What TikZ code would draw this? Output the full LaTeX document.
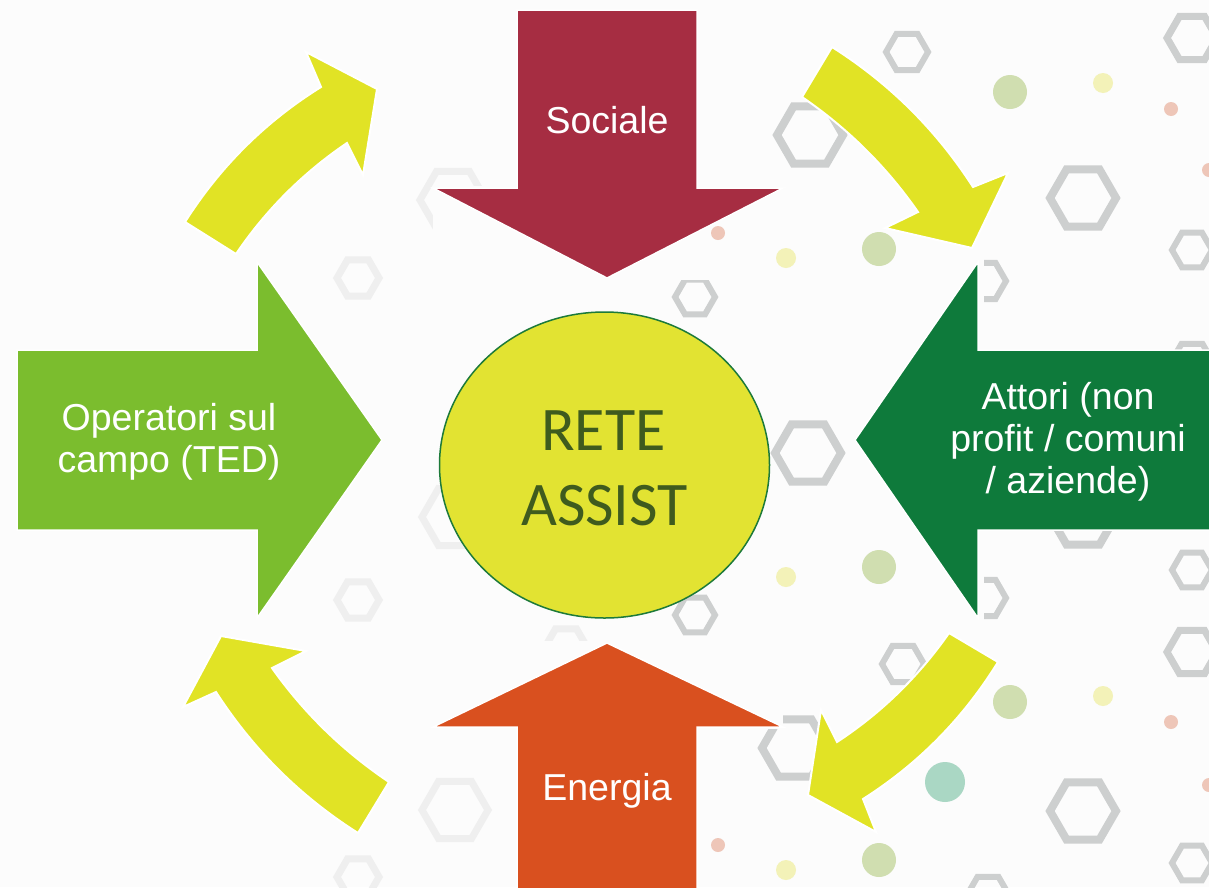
\documentclass[tikz,border=0pt]{standalone}
\usepackage{fontspec}
\setmainfont{Liberation Sans}
\newfontfamily\calibrifont{Carlito}
\usetikzlibrary{shapes.geometric}
\definecolor{bgc}{HTML}{FCFCFC}
\definecolor{socialec}{HTML}{A62D42}
\definecolor{energiac}{HTML}{D9501F}
\definecolor{operc}{HTML}{7BBD2E}
\definecolor{attoric}{HTML}{0E7A3B}
\definecolor{yelc}{HTML}{E1E325}
\definecolor{circc}{HTML}{E2E332}
\definecolor{circborder}{HTML}{1D7A3A}
\definecolor{retec}{HTML}{3F5B1E}
\definecolor{hexc}{HTML}{CDCFCF}
\definecolor{hexfaint}{HTML}{EFEFEF}
\definecolor{dotg}{HTML}{D0DEB0}
\definecolor{doty}{HTML}{F3F2B8}
\definecolor{dotr}{HTML}{EEC6B8}
\definecolor{dott}{HTML}{AAD7C4}
\tikzset{
  bigarrow/.style={draw=white, line width=1.5, line join=miter},
  carrow/.style={fill=yelc, draw=white, line width=2, line join=miter},
  lbl/.style={text=white, font=\fontsize{37.5}{45}\selectfont, inner sep=0, anchor=base},
  retetxt/.style={text=retec, font=\calibrifont\fontsize{62}{75}\selectfont, inner sep=0, anchor=base},
  retecirc/.style={ellipse, fill=circc, draw=circborder, line width=1.5, minimum width=330, minimum height=306, inner sep=0}
}
\begin{document}
\begin{tikzpicture}[x=1pt,y=-1pt]
\useasboundingbox (0,0) rectangle (1209,887);
\fill[bgc] (0,0) rectangle (1209,887);
% faint hexagons
\foreach \cx/\cy/\r in {453/200/33, 358/278/21, 455/517/33, 358/600/21, 566/647/21, 455/810/33, 358/877/21}
  \draw[hexfaint, line width=7] (\cx,\cy) +(0:\r) -- +(60:\r) -- +(120:\r) -- +(180:\r) -- +(240:\r) -- +(300:\r) -- cycle;
% gray hexagons
\foreach \cx/\cy/\r/\w in {810/135/33/8, 1083/198/33/8, 808/453/33/8, 1083/516/33/8, 1083/811/33/8, 795/748/33/8,
  1192/38/25/7, 1192/652/25/7,
  907/52/21/6, 695/297/20/6, 1192/250/20/6, 985/281/21/6, 1192/362/21/6, 1192/570/20/6, 695/615/20/6,
  985/598/21/6, 903/664/21/6, 1192/863/20/6, 988/895/21/6}
  \draw[hexc, line width=\w] (\cx,\cy) +(0:\r) -- +(60:\r) -- +(120:\r) -- +(180:\r) -- +(240:\r) -- +(300:\r) -- cycle;
% background boxes behind arrow heads
\fill[bgc] (855,257) rectangle (984,623);
\fill[bgc] (433,186) rectangle (783,280);
\fill[bgc] (433,641) rectangle (783,729);
% dots
\foreach \cx/\cy in {1010/92, 879/249, 879/567, 1010/702, 879/860} \fill[dotg] (\cx,\cy) circle[radius=17];
\foreach \cx/\cy in {1103/83, 786/258, 786/577, 1103/696, 786/870} \fill[doty] (\cx,\cy) circle[radius=10];
\foreach \cx/\cy in {1171/109, 718/233, 1171/722, 718/845, 1209/170, 1209/785} \fill[dotr] (\cx,\cy) circle[radius=7];
\fill[dott] (945,782) circle[radius=20];
% big arrows
\fill[socialec, bigarrow] (517,10) -- (697,10) -- (697,188) -- (783,188) -- (607,278) -- (433,188) -- (517,188) -- cycle;
\fill[energiac, bigarrow] (517,892) -- (517,727) -- (433,727) -- (607,643) -- (783,727) -- (697,727) -- (697,892) -- cycle;
\fill[operc, bigarrow] (17,350) -- (257,350) -- (257,262) -- (382,440) -- (257,618) -- (257,530) -- (17,530) -- cycle;
\fill[attoric, bigarrow] (1215,350) -- (978,350) -- (978,262) -- (855,440) -- (978,618) -- (978,530) -- (1215,530) -- cycle;
% labels
\node[lbl] (sociale) at (607,133) {Sociale};
\node[lbl] (energia) at (607,800) {Energia};
\node[lbl] (oper1) at (169,430) {Operatori sul};
\node[lbl] (oper2) at (169,472) {campo (TED)};
\node[lbl] (att1) at (1068,409) {Attori (non};
\node[lbl] (att2) at (1068,451) {profit / comuni};
\node[lbl] (att3) at (1068,493) {/ aziende)};
% centre
\node[retecirc] (rete) at (604.5,465) {};
\node[retetxt] (rete1) at (603.5,450) {RETE};
\node[retetxt] (rete2) at (604.5,525) {ASSIST};
% curved arrows
\fill[carrow] (185,222) -- (236,254) .. controls (265.9,209.9) and (302.9,172.9) .. (347,143) -- (363,175) -- (377,89) -- (306,52) -- (321,87) .. controls (265.4,121.6) and (220.1,166.6) .. cycle;
\fill[carrow] (832,47) -- (802,97) .. controls (847.7,128.3) and (886.4,166.6) .. (918,212) -- (885,228) -- (972,248) -- (1008,173) -- (973,187) .. controls (936.3,129.9) and (889.3,83.3) .. cycle;
\fill[carrow] (998,662) -- (949,633) .. controls (918.7,676.5) and (881.3,712.9) .. (837,742) -- (821,710) -- (808,795) -- (876,832) -- (863,799) .. controls (918.3,763.9) and (963.3,718.2) .. cycle;
\fill[carrow] (358,833) -- (389,782) .. controls (343,751.1) and (304,713.1) .. (272,668) -- (306,651) -- (221,636) -- (183,707) -- (216,692) .. controls (253.1,749.5) and (300.4,796.5) .. cycle;
\end{tikzpicture}
\end{document}
